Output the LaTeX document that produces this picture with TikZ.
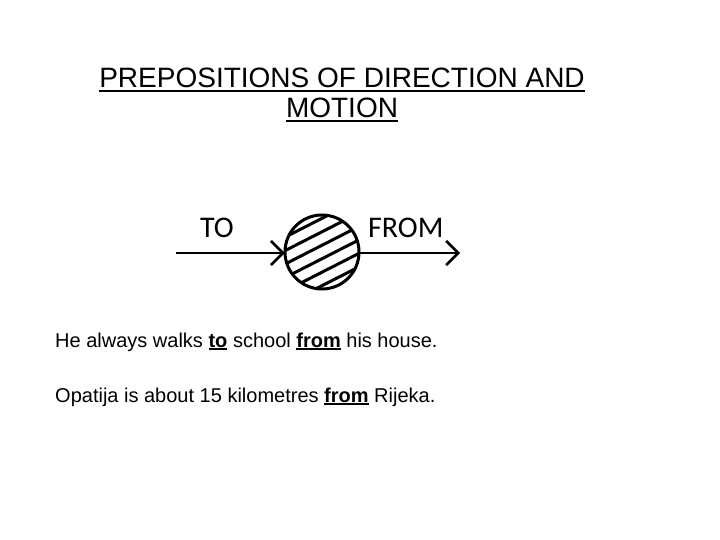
\documentclass[tikz,border=0pt]{standalone}
\usepackage{fontspec}
\setmainfont{Liberation Sans}
\newfontfamily\carlitofont{Carlito}
\usetikzlibrary{arrows.meta}
\newsavebox\ulbox
\newcommand\myul[1]{\sbox\ulbox{#1}\rlap{\rule[-0.14em]{\wd\ulbox}{0.07em}}\usebox\ulbox}
\tikzset{
  title/.style={font=\fontsize{28}{30}\selectfont, anchor=base, inner sep=0pt},
  sentence/.style={font=\fontsize{20}{24}\selectfont, anchor=base west, inner sep=0pt},
  dirlabel/.style={font=\carlitofont\fontsize{30}{34}\selectfont, anchor=base west, inner sep=0pt},
  motion/.style={line width=2.6pt, -{Straight Barb[length=12pt,width=24pt,line width=2.6pt]}},
  hatch/.style={line width=3pt},
}
\begin{document}
\begin{tikzpicture}[x=1pt,y=-1pt]
\useasboundingbox[fill=white] (0,0) rectangle (720,540);
\node[title] (t1) at (342,88) {\myul{PREPOSITIONS OF DIRECTION AND}};
\node[title] (t2) at (342,118) {\myul{MOTION}};
\node[dirlabel] (to) at (200,237) {TO};
\node[dirlabel] (from) at (368,237) {FROM};
\node[circle, minimum size=74pt, inner sep=0pt] (ball) at (322,252) {};
\begin{scope}
  \clip (ball.center) circle (37);
  \begin{scope}[shift={(322,252)}, rotate=27]
    \foreach \k in {-30,-18,-6,6,18,30}
      \draw[hatch] (-60,\k) -- (60,\k);
  \end{scope}
\end{scope}
\draw[line width=3pt] (ball.center) circle (37);
\coordinate (s) at (176,253);
\coordinate (e) at (460,253);
\draw[motion] (s) -- (ball.west |- s);
\draw[motion] (ball.east |- e) -- (e);
\node[sentence] (l1) at (55,347) {He always walks \textbf{\myul{to}} school \textbf{\myul{from}} his house.};
\node[sentence] (l2) at (55,402) {Opatija is about 15 kilometres \textbf{\myul{from}} Rijeka.};
\end{tikzpicture}
\end{document}
